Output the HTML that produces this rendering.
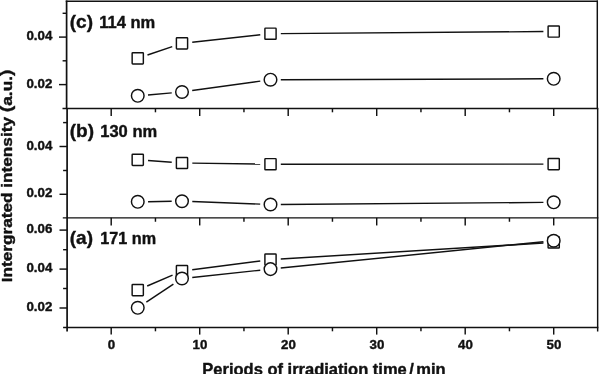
<!DOCTYPE html>
<html><head><meta charset="utf-8"><title>Intergrated intensity</title>
<style>html,body{margin:0;padding:0;background:#fff;}svg{display:block;}</style></head>
<body>
<svg width="600" height="374" viewBox="0 0 600 374">
<rect width="600" height="374" fill="#fff"/>
<g stroke="#111" stroke-width="1.5" fill="none" stroke-linecap="butt">
<g stroke-width="1.7"><path d="M66.6 0.6000000000000001 V108.4 M67.1 108.4 V331.4"/></g>
<g stroke-width="1.45"><path d="M597.3 0.6000000000000001 V108.4 M597.65 108.4 V331.4"/></g>
<g stroke-width="1.45"><path d="M65.75 1.3 H598.0 M62.49999999999999 108.4 H598.35 M62.8 217.85 H598.35 M63.099999999999994 327.4 H598.35"/>
<path d="M62.599999999999994 13.3 H66.6"/>
<path d="M58.99999999999999 37.1 H66.6"/>
<path d="M62.599999999999994 60.8 H66.6"/>
<path d="M58.99999999999999 84.6 H66.6"/>
<path d="M63.099999999999994 122.6 H67.1"/>
<path d="M59.49999999999999 146.5 H67.1"/>
<path d="M63.099999999999994 170.5 H67.1"/>
<path d="M59.49999999999999 194.3 H67.1"/>
<path d="M59.49999999999999 230.1 H67.1"/>
<path d="M63.099999999999994 249.7 H67.1"/>
<path d="M59.49999999999999 269.1 H67.1"/>
<path d="M63.099999999999994 288.5 H67.1"/>
<path d="M59.49999999999999 308.0 H67.1"/>
<path d="M111.20 108.4 v7.6"/>
<path d="M155.45 108.4 v3.9"/>
<path d="M199.70 108.4 v7.6"/>
<path d="M243.95 108.4 v3.9"/>
<path d="M288.20 108.4 v7.6"/>
<path d="M332.45 108.4 v3.9"/>
<path d="M376.70 108.4 v7.6"/>
<path d="M420.95 108.4 v3.9"/>
<path d="M465.20 108.4 v7.6"/>
<path d="M509.45 108.4 v3.9"/>
<path d="M553.70 108.4 v7.6"/>
<path d="M111.20 217.85 v7.6"/>
<path d="M155.45 217.85 v3.9"/>
<path d="M199.70 217.85 v7.6"/>
<path d="M243.95 217.85 v3.9"/>
<path d="M288.20 217.85 v7.6"/>
<path d="M332.45 217.85 v3.9"/>
<path d="M376.70 217.85 v7.6"/>
<path d="M420.95 217.85 v3.9"/>
<path d="M465.20 217.85 v7.6"/>
<path d="M509.45 217.85 v3.9"/>
<path d="M553.70 217.85 v7.6"/>
<path d="M111.20 327.4 v7.2"/>
<path d="M155.45 327.4 v3.9"/>
<path d="M199.70 327.4 v7.2"/>
<path d="M243.95 327.4 v3.9"/>
<path d="M288.20 327.4 v7.2"/>
<path d="M332.45 327.4 v3.9"/>
<path d="M376.70 327.4 v7.2"/>
<path d="M420.95 327.4 v3.9"/>
<path d="M465.20 327.4 v7.2"/>
<path d="M509.45 327.4 v3.9"/>
<path d="M553.70 327.4 v7.2"/>
</g>
</g>
<g stroke="#111" stroke-width="1.45" fill="#fff">
<line x1="147.50" y1="54.99" x2="172.25" y2="46.61"/>
<line x1="192.24" y1="42.19" x2="260.26" y2="34.81"/>
<line x1="280.80" y1="33.62" x2="543.40" y2="31.58"/>
<line x1="148.01" y1="94.92" x2="171.74" y2="92.88"/>
<line x1="192.20" y1="90.58" x2="260.30" y2="81.12"/>
<line x1="280.80" y1="79.67" x2="543.40" y2="78.83"/>
<line x1="148.02" y1="160.54" x2="171.73" y2="162.26"/>
<line x1="192.30" y1="163.14" x2="260.20" y2="164.06"/>
<line x1="280.80" y1="164.20" x2="543.40" y2="164.10"/>
<line x1="148.05" y1="201.66" x2="171.70" y2="201.34"/>
<line x1="192.29" y1="201.58" x2="260.21" y2="204.12"/>
<line x1="280.80" y1="204.42" x2="543.40" y2="202.38"/>
<line x1="147.21" y1="286.02" x2="172.54" y2="275.08"/>
<line x1="192.22" y1="269.68" x2="260.28" y2="260.92"/>
<line x1="280.78" y1="258.98" x2="543.42" y2="243.02"/>
<line x1="146.34" y1="302.11" x2="173.41" y2="284.19"/>
<line x1="192.24" y1="277.41" x2="260.26" y2="270.19"/>
<line x1="280.75" y1="268.07" x2="543.45" y2="241.73"/>
<rect x="132.15" y="52.70" width="11.2" height="11.2" rx="0.6"/>
<rect x="176.40" y="37.70" width="11.2" height="11.2" rx="0.6"/>
<rect x="264.90" y="28.10" width="11.2" height="11.2" rx="0.6"/>
<rect x="548.10" y="25.90" width="11.2" height="11.2" rx="0.6"/>
<circle cx="137.75" cy="95.80" r="6.3"/>
<circle cx="182.00" cy="92.00" r="6.3"/>
<circle cx="270.50" cy="79.70" r="6.3"/>
<circle cx="553.70" cy="78.80" r="6.3"/>
<rect x="132.15" y="154.20" width="11.2" height="11.2" rx="0.6"/>
<rect x="176.40" y="157.40" width="11.2" height="11.2" rx="0.6"/>
<rect x="264.90" y="158.60" width="11.2" height="11.2" rx="0.6"/>
<rect x="548.10" y="158.50" width="11.2" height="11.2" rx="0.6"/>
<circle cx="137.75" cy="201.80" r="6.3"/>
<circle cx="182.00" cy="201.20" r="6.3"/>
<circle cx="270.50" cy="204.50" r="6.3"/>
<circle cx="553.70" cy="202.30" r="6.3"/>
<rect x="132.15" y="284.50" width="11.2" height="11.2" rx="0.6"/>
<rect x="176.40" y="265.40" width="11.2" height="11.2" rx="0.6"/>
<rect x="264.90" y="254.00" width="11.2" height="11.2" rx="0.6"/>
<rect x="548.10" y="236.80" width="11.2" height="11.2" rx="0.6"/>
<circle cx="137.75" cy="307.80" r="6.3"/>
<circle cx="182.00" cy="278.50" r="6.3"/>
<circle cx="270.50" cy="269.10" r="6.3"/>
<circle cx="553.70" cy="240.70" r="6.3"/>
</g>
<g font-family="'Liberation Sans', Arial, Helvetica, sans-serif" font-weight="bold" fill="#111" stroke="#111" stroke-width="0.4" stroke-linejoin="round">
<text x="52.3" y="40.1" font-size="13.3" text-anchor="end">0.04</text>
<text x="52.3" y="87.5" font-size="13.3" text-anchor="end">0.02</text>
<text x="52.3" y="149.6" font-size="13.3" text-anchor="end">0.04</text>
<text x="52.3" y="197.4" font-size="13.3" text-anchor="end">0.02</text>
<text x="52.3" y="232.8" font-size="13.3" text-anchor="end">0.06</text>
<text x="52.3" y="271.8" font-size="13.3" text-anchor="end">0.04</text>
<text x="52.3" y="310.7" font-size="13.3" text-anchor="end">0.02</text>
<text x="111.5" y="349.1" font-size="13.3" text-anchor="middle">0</text>
<text x="200.0" y="349.1" font-size="13.3" text-anchor="middle">10</text>
<text x="288.5" y="349.1" font-size="13.3" text-anchor="middle">20</text>
<text x="377.0" y="349.1" font-size="13.3" text-anchor="middle">30</text>
<text x="465.5" y="349.1" font-size="13.3" text-anchor="middle">40</text>
<text x="554.0" y="349.1" font-size="13.3" text-anchor="middle">50</text>
<text x="69.8" y="27.8"><tspan font-size="19">(c)</tspan><tspan font-size="16.5" dx="6.2">114 nm</tspan></text>
<text x="69.8" y="136.9"><tspan font-size="19">(b)</tspan><tspan font-size="16.5" dx="6.2">130 nm</tspan></text>
<text x="69.8" y="243.8"><tspan font-size="19">(a)</tspan><tspan font-size="16.2" dx="7.2">171 nm</tspan></text>
<text x="202.3" y="374.6" font-size="16.5">Periods of irradiation time<tspan dx="2.5">/</tspan><tspan dx="2.5">min</tspan></text>
<text transform="translate(11.8 282.3) rotate(-90) scale(1.148 1)" font-size="15">Intergrated intensity <tspan font-size="17">(</tspan>a.u.<tspan font-size="17">)</tspan></text>
</g>
</svg>
</body></html>
